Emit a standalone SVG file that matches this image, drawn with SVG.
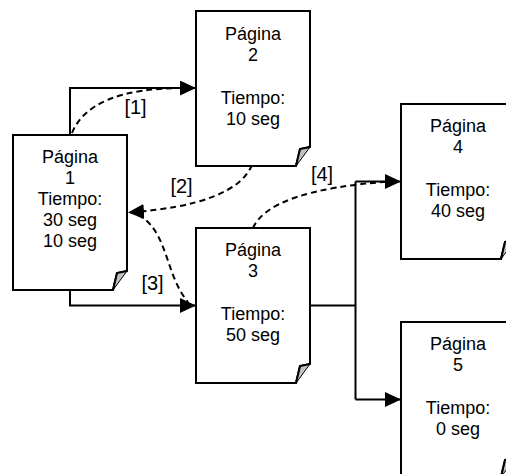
<svg xmlns="http://www.w3.org/2000/svg" width="506" height="474" viewBox="0 0 506 474">
<style>
.page{fill:#fff;stroke:#000;stroke-width:2;stroke-linejoin:miter}
.fold{fill:#c0c0c0;stroke:#000;stroke-width:1}
.foldedge{fill:none;stroke:#000;stroke-width:2}
.t{font-family:"Liberation Sans",Arial,sans-serif;font-size:18px;fill:#000;text-anchor:middle}
.lbl{font-family:"Liberation Sans",Arial,sans-serif;font-size:20px;fill:#000;text-anchor:middle}
.solid{fill:none;stroke:#000;stroke-width:2}
.dash{fill:none;stroke:#000;stroke-width:2;stroke-dasharray:6,4}
</style>
<defs>
<marker id="arr" markerUnits="userSpaceOnUse" markerWidth="16" markerHeight="15" viewBox="0 0 15 14" refX="15" refY="7" orient="auto">
<path d="M0,0 L15,7 L0,14 Z" fill="#000"/>
</marker>
</defs>
<rect width="506" height="474" fill="#fff"/>
<g id="connectors">
<path class="solid" d="M70,135 V88 H196" marker-end="url(#arr)"/>
<path class="solid" d="M70,290 V305.5 H196" marker-end="url(#arr)"/>
<path class="solid" d="M310,305.5 H355.5"/>
<path class="solid" d="M355.5,181.5 V399.5"/>
<path class="solid" d="M355.5,181.5 H401" marker-end="url(#arr)"/>
<path class="solid" d="M355.5,399.5 H401" marker-end="url(#arr)"/>
<path class="dash" d="M72,133 Q90,88 185,88"/>
<path class="dash" d="M252,165 Q235,205 128,212.5" marker-end="url(#arr)"/>
<path class="dash" d="M138,215 C168,230 165,275 188,302"/>
<path class="dash" d="M253,228 Q270,190 390,181.5"/>
<text class="lbl" x="135.5" y="114">[1]</text>
<text class="lbl" x="181.5" y="193">[2]</text>
<text class="lbl" x="152.5" y="290">[3]</text>
<text class="lbl" x="322" y="181">[4]</text>
</g>
<g id="node1">
<path class="page" d="M13,135 H127 V271 L117,273 L113,290 H13 Z"/>
<path class="fold" d="M127,271 L117,273 L113,290 Z"/>
<path class="foldedge" d="M127,271 L117,273 L113,290"/>
<text class="t" x="70" y="163">Página</text>
<text class="t" x="70" y="184">1</text>
<text class="t" x="70" y="205">Tiempo:</text>
<text class="t" x="70" y="226">30 seg</text>
<text class="t" x="70" y="247">10 seg</text>
</g>
<g id="node2">
<path class="page" d="M196,11 H310 V147 L300,149 L296,166 H196 Z"/>
<path class="fold" d="M310,147 L300,149 L296,166 Z"/>
<path class="foldedge" d="M310,147 L300,149 L296,166"/>
<text class="t" x="253" y="40">Página</text>
<text class="t" x="253" y="61">2</text>
<text class="t" x="253" y="104">Tiempo:</text>
<text class="t" x="253" y="125">10 seg</text>
</g>
<g id="node3">
<path class="page" d="M196,228 H310 V364 L300,366 L296,383 H196 Z"/>
<path class="fold" d="M310,364 L300,366 L296,383 Z"/>
<path class="foldedge" d="M310,364 L300,366 L296,383"/>
<text class="t" x="253" y="256">Página</text>
<text class="t" x="253" y="277">3</text>
<text class="t" x="253" y="320">Tiempo:</text>
<text class="t" x="253" y="341">50 seg</text>
</g>
<g id="node4">
<path class="page" d="M401,104 H515 V240 L505,242 L501,259 H401 Z"/>
<path class="fold" d="M515,240 L505,242 L501,259 Z"/>
<path class="foldedge" d="M515,240 L505,242 L501,259"/>
<text class="t" x="458" y="132">Página</text>
<text class="t" x="458" y="153">4</text>
<text class="t" x="458" y="196">Tiempo:</text>
<text class="t" x="458" y="217">40 seg</text>
</g>
<g id="node5">
<path class="page" d="M401,322 H515 V458 L505,460 L501,477 H401 Z"/>
<path class="fold" d="M515,458 L505,460 L501,477 Z"/>
<path class="foldedge" d="M515,458 L505,460 L501,477"/>
<text class="t" x="458" y="350">Página</text>
<text class="t" x="458" y="371">5</text>
<text class="t" x="458" y="414">Tiempo:</text>
<text class="t" x="458" y="435">0 seg</text>
</g>
</svg>
